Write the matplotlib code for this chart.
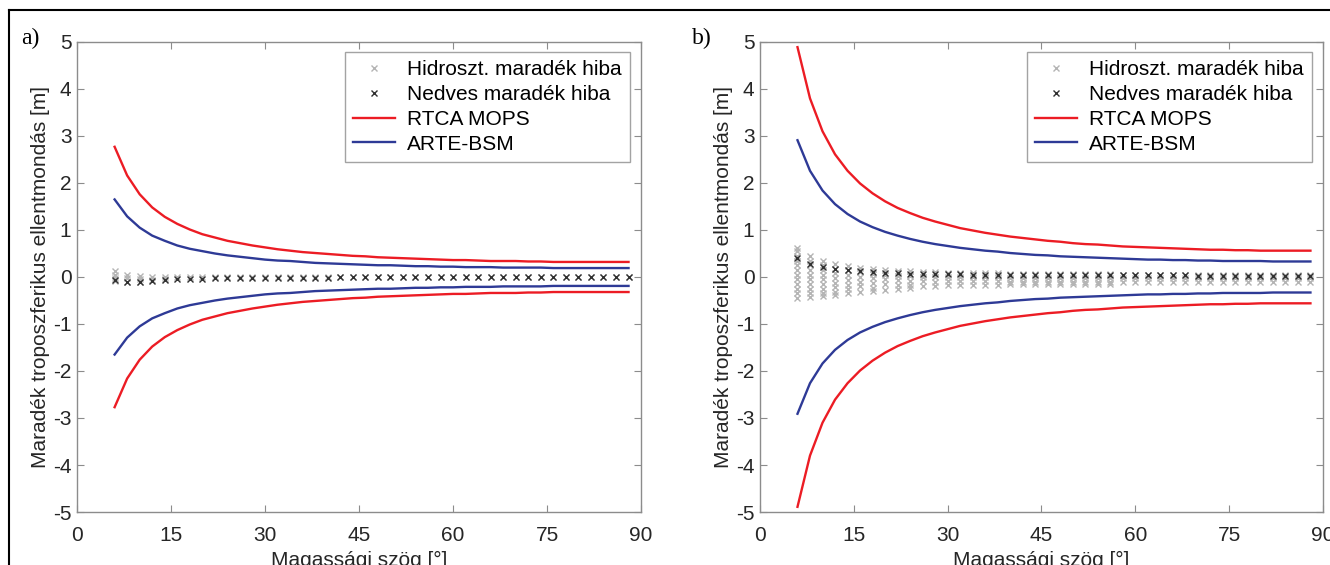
import matplotlib
matplotlib.use("Agg")
import matplotlib.pyplot as plt
from matplotlib.lines import Line2D

# elevation angles [deg]
elev = [6, 8, 10, 12, 14, 16, 18, 20, 22, 24, 26, 28, 30, 32, 34, 36, 38, 40, 42, 44, 46,
        48, 50, 52, 54, 56, 58, 60, 62, 64, 66, 68, 70, 72, 74, 76, 78, 80, 82, 84, 86, 88]

# a) bounds (upper half; the lower half is the mirror image)
rtca_a = [2.77, 2.16, 1.76, 1.48, 1.28, 1.13, 1.01, 0.91, 0.84, 0.77, 0.72, 0.67, 0.63, 0.59,
          0.56, 0.53, 0.51, 0.49, 0.47, 0.45, 0.44, 0.42, 0.41, 0.40, 0.39, 0.38, 0.37, 0.36,
          0.36, 0.35, 0.34, 0.34, 0.34, 0.33, 0.33, 0.32, 0.32, 0.32, 0.32, 0.32, 0.32, 0.32]
arte_a = [1.65, 1.29, 1.05, 0.88, 0.77, 0.67, 0.60, 0.55, 0.50, 0.46, 0.43, 0.40, 0.37, 0.35,
          0.34, 0.32, 0.30, 0.29, 0.28, 0.27, 0.26, 0.25, 0.25, 0.24, 0.23, 0.23, 0.22, 0.22,
          0.21, 0.21, 0.21, 0.20, 0.20, 0.20, 0.20, 0.19, 0.19, 0.19, 0.19, 0.19, 0.19, 0.19]

# b) bounds
rtca_b = [4.89, 3.80, 3.10, 2.61, 2.26, 1.99, 1.78, 1.61, 1.47, 1.36, 1.26, 1.18, 1.11, 1.04,
          0.99, 0.94, 0.90, 0.86, 0.83, 0.80, 0.77, 0.75, 0.72, 0.70, 0.69, 0.67, 0.65, 0.64,
          0.63, 0.62, 0.61, 0.60, 0.59, 0.58, 0.58, 0.57, 0.57, 0.56, 0.56, 0.56, 0.56, 0.56]
arte_b = [2.91, 2.26, 1.84, 1.55, 1.34, 1.18, 1.06, 0.96, 0.88, 0.81, 0.75, 0.70, 0.66, 0.62,
          0.59, 0.56, 0.54, 0.51, 0.49, 0.47, 0.46, 0.44, 0.43, 0.42, 0.41, 0.40, 0.39, 0.38,
          0.37, 0.37, 0.36, 0.36, 0.35, 0.35, 0.34, 0.34, 0.34, 0.34, 0.33, 0.33, 0.33, 0.33]

# residual errors, one list of values per elevation
hydro_a = [[0.13, 0.05, -0.02, -0.09], [0.05, -0.03, -0.10], [0.02, -0.05, -0.10],
           [0.0, -0.07], [0.0, -0.05]] + [[-0.01]] * 37
wet_a = [-0.07, -0.10, -0.10, -0.08, -0.06, -0.05, -0.04, -0.04, -0.03, -0.03, -0.03, -0.03,
         -0.02, -0.02, -0.02, -0.02, -0.02, -0.02, -0.01, -0.01, -0.01, -0.01, -0.01, -0.01,
         -0.01, -0.01, -0.01, -0.01, -0.01, -0.01, -0.01, -0.01, -0.01, -0.01, -0.01, -0.01,
         -0.01, -0.01, -0.01, -0.01, -0.01, -0.01]

hydro_b = (
    [[0.62, 0.55, 0.45, 0.35, 0.25, 0.15, 0.05, -0.05, -0.15, -0.25, -0.35, -0.45],
     [0.45, 0.35, 0.25, 0.15, 0.05, -0.05, -0.15, -0.25, -0.35, -0.43],
     [0.35, 0.25, 0.15, 0.05, -0.05, -0.15, -0.25, -0.35, -0.40],
     [0.28, 0.18, 0.08, -0.02, -0.12, -0.22, -0.32, -0.38],
     [0.24, 0.14, 0.04, -0.06, -0.16, -0.26, -0.34],
     [0.20, 0.10, 0.0, -0.10, -0.20, -0.31],
     [0.17, 0.07, -0.03, -0.13, -0.23, -0.30],
     [0.15, 0.05, -0.05, -0.15, -0.27],
     [0.13, 0.03, -0.07, -0.17, -0.25],
     [0.12, 0.02, -0.08, -0.18, -0.23],
     [0.11, 0.01, -0.09, -0.20],
     [0.10, 0.0, -0.10, -0.19]]
    + [[0.09, 0.0, -0.09, -0.17]] * 5
    + [[0.07, -0.02, -0.10, -0.14]] * 9
    + [[0.05, -0.03, -0.10]] * 16
)
wet_b = [0.40, 0.28, 0.22, 0.18, 0.14, 0.12, 0.10, 0.09, 0.08, 0.07, 0.07, 0.06, 0.06, 0.06,
         0.05, 0.05, 0.05, 0.05, 0.05, 0.05, 0.05, 0.04, 0.04, 0.04, 0.04, 0.04, 0.04, 0.04,
         0.04, 0.04, 0.04, 0.04, 0.03, 0.03, 0.03, 0.03, 0.03, 0.03, 0.03, 0.03, 0.03, 0.03]

plt.rcParams["font.family"] = ["Liberation Sans", "DejaVu Sans"]
plt.rcParams["axes.unicode_minus"] = False

RED = "#ec1c24"
BLUE = "#2e3a96"
AXC = "#8c8c8c"
TXT = "#262626"

fig = plt.figure(figsize=(13.3, 5.65), dpi=100)
ax_a = fig.add_axes([0.0579, 0.0938, 0.4241, 0.8319])
ax_b = fig.add_axes([0.5714, 0.0938, 0.4233, 0.8319])


def draw_panel(ax, rtca, arte, hydro, wet, tag, tag_x):
    hx, hy = [], []
    for e, vals in zip(elev, hydro):
        hx += [e] * len(vals)
        hy += vals
    ax.plot(hx, hy, "x", color="#b4b4b4", ms=5, mew=1.0, zorder=2)
    ax.plot(elev, wet, "x", color="#303030", ms=5, mew=1.0, zorder=3)
    ax.plot(elev, rtca, color=RED, lw=1.7, zorder=4)
    ax.plot(elev, [-v for v in rtca], color=RED, lw=1.7, zorder=4)
    ax.plot(elev, arte, color=BLUE, lw=1.7, zorder=4)
    ax.plot(elev, [-v for v in arte], color=BLUE, lw=1.7, zorder=4)

    ax.set_xlim(0, 90)
    ax.set_ylim(-5, 5)
    ax.set_xticks(range(0, 91, 15))
    ax.set_yticks(range(-5, 6))
    ax.tick_params(direction="in", length=5, width=0.8, color=AXC, labelcolor=TXT,
                   labelsize=15, top=True, right=True)
    ax.tick_params(axis="x", pad=10)
    ax.tick_params(axis="y", pad=4)
    for sp in ax.spines.values():
        sp.set_color(AXC)
        sp.set_linewidth(1.0)
    ax.set_xlabel("Magassági szög [°]", fontsize=15, color=TXT, labelpad=4)
    ax.set_ylabel("Maradék troposzferikus ellentmondás [m]", fontsize=15, color=TXT,
                  labelpad=2)

    handles = [
        Line2D([], [], ls="none", marker="x", color="#b4b4b4", ms=5, mew=1.0),
        Line2D([], [], ls="none", marker="x", color="#303030", ms=5, mew=1.0),
        Line2D([], [], color=RED, lw=1.7),
        Line2D([], [], color=BLUE, lw=1.7),
    ]
    labels = ["Hidroszt. maradék hiba", "Nedves maradék hiba", "RTCA MOPS", "ARTE-BSM"]
    leg = ax.legend(handles, labels, loc="upper right", bbox_to_anchor=(0.981, 0.979),
                    fontsize=15, frameon=True, fancybox=False, borderaxespad=0,
                    handlelength=2.0, handletextpad=0.6, labelspacing=0.28,
                    borderpad=0.4)
    leg.get_frame().set_edgecolor(AXC)
    leg.get_frame().set_linewidth(1.0)

    fig.text(tag_x, 0.932, tag, family=["Liberation Serif", "DejaVu Serif"], fontsize=17,
             ha="left", va="center")


draw_panel(ax_a, rtca_a, arte_a, hydro_a, wet_a, "a)", 0.016)
draw_panel(ax_b, rtca_b, arte_b, hydro_b, wet_b, "b)", 0.520)

# frame around the figure (top and left edges)
fig.add_artist(Line2D([0.0068, 1.0], [0.982, 0.982], color="black", lw=1.5))
fig.add_artist(Line2D([0.0068, 0.0068], [0.0, 0.982], color="black", lw=1.5))

fig.savefig("out.png", dpi=100)
